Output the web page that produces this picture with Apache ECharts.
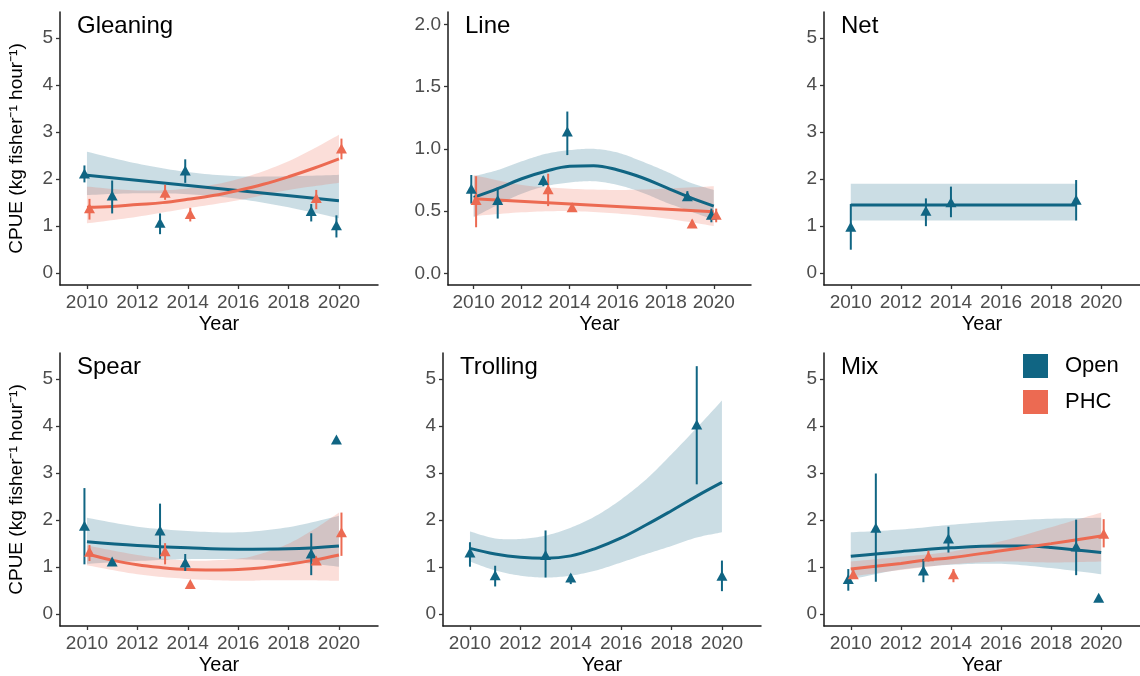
<!DOCTYPE html>
<html>
<head>
<meta charset="utf-8">
<script src="https://cdn.jsdelivr.net/npm/echarts@6/dist/echarts.min.js"></script>
<style>
  html, body { margin: 0; padding: 0; background: #ffffff; }
  #chart { width: 1140px; height: 676px; }
</style>
</head>
<body>
<div id="chart"></div>
<script>
// Tick labels
const xTicks = [2010, 2012, 2014, 2016, 2018, 2020];
const cpueTicks = [0, 1, 2, 3, 4, 5];
const lineTicks = [0, 0.5, 1.0, 1.5, 2.0];
const panelTitles = ['Gleaning', 'Line', 'Net', 'Spear', 'Trolling', 'Mix'];
const groups = ['Open', 'PHC'];

// Yearly CPUE: [year, mean, lower, upper]
const gleaningOpen = [[2009.9, 2.12, 1.93, 2.29], [2011.0, 1.65, 1.27, 1.97], [2012.9, 1.07, 0.83, 1.27], [2013.9, 2.18, 1.92, 2.42], [2018.9, 1.32, 1.10, 1.47], [2019.9, 1.02, 0.76, 1.23]];
const gleaningPhc  = [[2010.1, 1.38, 1.14, 1.58], [2013.1, 1.71, 1.56, 1.88], [2014.1, 1.26, 1.10, 1.39], [2019.1, 1.60, 1.36, 1.77], [2020.1, 2.65, 2.42, 2.86]];
const lineOpen     = [[2009.9, 0.68, 0.56, 0.79], [2011.0, 0.59, 0.44, 0.69], [2012.9, 0.75, 0.70, 0.78], [2013.9, 1.14, 0.95, 1.30], [2018.9, 0.62, 0.59, 0.66], [2019.9, 0.47, 0.41, 0.52]];
const linePhc      = [[2010.1, 0.59, 0.37, 0.78], [2013.1, 0.675, 0.54, 0.80], [2014.1, 0.53, 0.50, 0.56], [2019.1, 0.40, 0.37, 0.43], [2020.1, 0.47, 0.41, 0.52]];
const netOpen      = [[2010.0, 0.99, 0.50, 1.47], [2013.0, 1.33, 1.00, 1.59], [2014.0, 1.51, 1.19, 1.84], [2019.0, 1.56, 1.12, 1.98]];
const spearOpen    = [[2009.9, 1.88, 1.06, 2.68], [2011.0, 1.12, null, null], [2012.9, 1.78, 1.18, 2.35], [2013.9, 1.10, 0.92, 1.28], [2018.9, 1.29, 0.83, 1.72], [2019.9, 3.71, null, null]];
const spearPhc     = [[2010.1, 1.33, 1.13, 1.47], [2013.1, 1.34, 1.06, 1.51], [2014.1, 0.64, null, null], [2019.1, 1.14, null, null], [2020.1, 1.74, 1.24, 2.16]];
const trollingOpen = [[2010.0, 1.31, 1.01, 1.53], [2011.0, 0.83, 0.59, 1.03], [2013.0, 1.26, 0.78, 1.78], [2014.0, 0.78, 0.64, 0.85], [2019.0, 4.03, 2.76, 5.27], [2020.0, 0.82, 0.49, 1.14]];
const mixOpen      = [[2009.9, 0.75, 0.50, 0.96], [2011.0, 1.84, 0.69, 2.99], [2012.9, 0.93, 0.68, 1.17], [2013.9, 1.61, 1.31, 1.86], [2019.0, 1.44, 0.83, 2.01], [2019.9, 0.35, null, null]];
const mixPhc       = [[2010.1, 0.85, 0.75, 0.94], [2013.1, 1.23, 1.12, 1.35], [2014.1, 0.85, 0.68, 0.96], [2020.1, 1.71, 1.42, 2.02]];

// Fitted trends: [year, fit]
const gleaningOpenFit = [[2010, 2.08], [2020, 1.54]];
const gleaningPhcFit  = [[2010, 1.40], [2011, 1.42], [2012, 1.46], [2013, 1.50], [2014, 1.57], [2015, 1.65], [2016, 1.76], [2017, 1.89], [2018, 2.05], [2019, 2.23], [2020, 2.43]];
const lineOpenFit     = [[2010, 0.61], [2011, 0.68], [2012, 0.76], [2013, 0.82], [2014, 0.86], [2015, 0.865], [2016, 0.83], [2017, 0.77], [2018, 0.69], [2019, 0.61], [2020, 0.54]];
const linePhcFit      = [[2010, 0.60], [2020, 0.495]];
const netOpenFit      = [[2010, 1.45], [2019, 1.45]];
const spearOpenFit    = [[2010, 1.54], [2012, 1.46], [2014, 1.41], [2016, 1.38], [2018, 1.39], [2020, 1.45]];
const spearPhcFit     = [[2010, 1.28], [2011, 1.15], [2012, 1.05], [2013, 0.99], [2014, 0.95], [2015, 0.94], [2016, 0.95], [2017, 0.99], [2018, 1.06], [2019, 1.15], [2020, 1.26]];
const trollingOpenFit = [[2010, 1.40], [2011, 1.28], [2012, 1.21], [2013, 1.19], [2014, 1.24], [2015, 1.40], [2016, 1.62], [2017, 1.90], [2018, 2.20], [2019, 2.51], [2020, 2.80]];
const mixOpenFit      = [[2010, 1.23], [2012, 1.33], [2014, 1.41], [2016, 1.45], [2017, 1.45], [2018, 1.42], [2020, 1.31]];
const mixPhcFit       = [[2010, 0.96], [2012, 1.08], [2013, 1.15], [2014, 1.20], [2016, 1.35], [2018, 1.50], [2020, 1.66]];

// Confidence bands: [year, lower, upper]
const gleaningOpenBand = [[2010, 1.66, 2.58], [2012, 1.70, 2.33], [2014, 1.68, 2.15], [2016, 1.58, 2.06], [2018, 1.40, 2.06], [2020, 1.17, 2.09]];
const gleaningPhcBand  = [[2010, 1.06, 1.84], [2012, 1.20, 1.76], [2014, 1.38, 1.80], [2016, 1.55, 2.00], [2018, 1.77, 2.38], [2020, 1.92, 2.94]];
const lineOpenBand     = [[2010, 0.45, 0.78], [2011, 0.55, 0.83], [2012, 0.64, 0.90], [2013, 0.70, 0.96], [2014, 0.73, 0.99], [2015, 0.74, 1.00], [2016, 0.71, 0.97], [2017, 0.65, 0.90], [2018, 0.57, 0.82], [2019, 0.50, 0.73], [2020, 0.43, 0.67]];
const linePhcBand      = [[2010, 0.46, 0.79], [2012, 0.49, 0.71], [2014, 0.50, 0.68], [2016, 0.48, 0.67], [2018, 0.44, 0.68], [2020, 0.38, 0.70]];
const netOpenBand      = [[2010, 1.12, 1.90], [2019, 1.12, 1.90]];
const spearOpenBand    = [[2010, 1.07, 2.05], [2012, 1.13, 1.86], [2014, 1.17, 1.77], [2016, 1.17, 1.74], [2018, 1.12, 1.85], [2020, 1.01, 2.09]];
const spearPhcBand     = [[2010, 1.04, 1.46], [2012, 0.85, 1.26], [2014, 0.75, 1.14], [2016, 0.71, 1.18], [2017, 0.72, 1.30], [2018, 0.72, 1.50], [2019, 0.72, 1.80], [2020, 0.71, 2.16]];
const trollingOpenBand = [[2010, 1.12, 1.76], [2011, 0.93, 1.61], [2012, 0.82, 1.60], [2013, 0.78, 1.67], [2014, 0.82, 1.84], [2015, 0.93, 2.09], [2016, 1.10, 2.44], [2017, 1.28, 2.87], [2018, 1.45, 3.40], [2019, 1.63, 3.96], [2020, 1.74, 4.54]];
const mixOpenBand      = [[2010, 0.74, 1.74], [2012, 0.95, 1.80], [2014, 1.05, 1.90], [2016, 1.07, 1.98], [2018, 0.98, 2.03], [2020, 0.85, 2.05]];
const mixPhcBand       = [[2010, 0.80, 1.12], [2012, 0.94, 1.22], [2014, 1.06, 1.33], [2016, 1.12, 1.55], [2018, 1.10, 1.85], [2020, 1.12, 2.16]];

const COLORS = { Open: '#106583', PHC: '#EC6A52' };
const FONT = '"Liberation Sans", Arial, Helvetica, sans-serif';

const panels = [
  { open: gleaningOpen, phc: gleaningPhc, openFit: gleaningOpenFit, phcFit: gleaningPhcFit, openBand: gleaningOpenBand, phcBand: gleaningPhcBand, ticks: cpueTicks },
  { open: lineOpen, phc: linePhc, openFit: lineOpenFit, phcFit: linePhcFit, openBand: lineOpenBand, phcBand: linePhcBand, ticks: lineTicks },
  { open: netOpen, openFit: netOpenFit, openBand: netOpenBand, ticks: cpueTicks },
  { open: spearOpen, phc: spearPhc, openFit: spearOpenFit, phcFit: spearPhcFit, openBand: spearOpenBand, phcBand: spearPhcBand, ticks: cpueTicks },
  { open: trollingOpen, openFit: trollingOpenFit, openBand: trollingOpenBand, ticks: cpueTicks },
  { open: mixOpen, phc: mixPhc, openFit: mixOpenFit, phcFit: mixPhcFit, openBand: mixOpenBand, phcBand: mixPhcBand, ticks: cpueTicks }
];

// Panel placement (px) and axis ranges
const layout = [
  { left: 60,  top: 12,  width: 318, height: 273, yMin: -0.25,  yMax: 5.55, yTitle: true,  digits: 0 },
  { left: 448, top: 12,  width: 303, height: 273, yMin: -0.094, yMax: 2.10, yTitle: false, digits: 1 },
  { left: 824, top: 12,  width: 318, height: 273, yMin: -0.25,  yMax: 5.55, yTitle: false, digits: 0 },
  { left: 60,  top: 353, width: 318, height: 274, yMin: -0.25,  yMax: 5.55, yTitle: true,  digits: 0 },
  { left: 443, top: 353, width: 318, height: 274, yMin: -0.25,  yMax: 5.55, yTitle: false, digits: 0 },
  { left: 824, top: 353, width: 318, height: 274, yMin: -0.25,  yMax: 5.55, yTitle: false, digits: 0 }
];
const X_MIN = 2008.93, X_MAX = 2021.55;

const grid = [], xAxis = [], yAxis = [], title = [], series = [];

// Catmull-Rom pass through pixel points so band edges curve like the fit lines
function curve(pts, steps) {
  if (pts.length < 3) return pts;
  const out = [];
  for (let i = 0; i < pts.length - 1; i++) {
    const p0 = pts[Math.max(0, i - 1)], p1 = pts[i], p2 = pts[i + 1], p3 = pts[Math.min(pts.length - 1, i + 2)];
    for (let s = 0; s < steps; s++) {
      const t = s / steps, t2 = t * t, t3 = t2 * t;
      const f = k => 0.5 * ((2 * p1[k]) + (-p0[k] + p2[k]) * t + (2 * p0[k] - 5 * p1[k] + 4 * p2[k] - p3[k]) * t2 + (-p0[k] + 3 * p1[k] - 3 * p2[k] + p3[k]) * t3);
      out.push([f(0), f(1)]);
    }
  }
  out.push(pts[pts.length - 1]);
  return out;
}

function bandSeries(rows, color, idx, key) {
  return { type: 'custom', name: key + ' band', xAxisIndex: idx, yAxisIndex: idx, silent: true, z: 1,
    data: rows,
    renderItem: function (params, api) {
      if (params.dataIndex !== 0) return null;
      const upper = curve(rows.map(r => api.coord([r[0], r[2]])), 12);
      const lower = curve(rows.map(r => api.coord([r[0], r[1]])), 12).reverse();
      return { type: 'polygon', shape: { points: upper.concat(lower) },
        style: { fill: color, opacity: 0.22 } };
    } };
}

function fitSeries(rows, color, idx, key) {
  return { type: 'line', name: key + ' fit', xAxisIndex: idx, yAxisIndex: idx,
    data: rows, smooth: 0.4, symbol: 'none', silent: true, z: 3,
    lineStyle: { color: color, width: 3 } };
}

function errorSeries(rows, color, idx, key) {
  return { type: 'custom', name: key + ' error', xAxisIndex: idx, yAxisIndex: idx, silent: true, z: 4,
    data: rows.map(r => [r[0], r[1], r[2] == null ? NaN : r[2], r[3] == null ? NaN : r[3]]),
    renderItem: function (params, api) {
      const x = api.value(0), lo = api.value(2), hi = api.value(3);
      if (isNaN(lo) || isNaN(hi)) return null;
      const a = api.coord([x, lo]), b = api.coord([x, hi]);
      return { type: 'line', shape: { x1: a[0], y1: a[1], x2: b[0], y2: b[1] },
        style: { stroke: color, lineWidth: 2 } };
    } };
}

function pointSeries(rows, color, idx, key) {
  return { type: 'scatter', name: key, xAxisIndex: idx, yAxisIndex: idx, z: 5,
    data: rows.map(r => [r[0], r[1]]), symbol: 'triangle', symbolSize: [11, 10],
    itemStyle: { color: color, opacity: 1 } };
}

panels.forEach((p, i) => {
  const L = layout[i];
  grid.push({ left: L.left, top: L.top, width: L.width, height: L.height, containLabel: false });
  xAxis.push({
    type: 'value', gridIndex: i, min: X_MIN, max: X_MAX,
    name: 'Year', nameLocation: 'middle', nameGap: 29,
    nameTextStyle: { fontSize: 20, color: '#000', fontFamily: FONT },
    axisLine: { show: true, onZero: false, lineStyle: { color: '#1a1a1a', width: 1.5 } },
    axisTick: { show: true, length: 4, customValues: xTicks, lineStyle: { color: '#333', width: 1.3 } },
    axisLabel: { customValues: xTicks, fontSize: 19, color: '#4d4d4d', margin: 8, fontFamily: FONT,
      formatter: v => String(Math.round(v)) },
    splitLine: { show: false }
  });
  yAxis.push({
    type: 'value', gridIndex: i, min: L.yMin, max: L.yMax,
    name: L.yTitle ? 'CPUE (kg fisher\u207B\u00B9 hour\u207B\u00B9)' : '',
    nameLocation: 'middle', nameGap: 34, nameRotate: 90,
    nameTextStyle: { fontSize: 19, color: '#000', fontFamily: FONT },
    axisLine: { show: true, onZero: false, lineStyle: { color: '#1a1a1a', width: 1.5 } },
    axisTick: { show: true, length: 4, customValues: p.ticks, lineStyle: { color: '#333', width: 1.3 } },
    axisLabel: { customValues: p.ticks, fontSize: 19, color: '#4d4d4d', margin: 7, fontFamily: FONT,
      formatter: v => Number(v).toFixed(L.digits) },
    splitLine: { show: false }
  });
  title.push({
    text: panelTitles[i], left: L.left + 17, top: L.top + 2, padding: 0,
    textStyle: { fontSize: 24, fontWeight: 'normal', color: '#000', fontFamily: FONT }
  });

  if (p.openBand) series.push(bandSeries(p.openBand, COLORS.Open, i, 'Open'));
  if (p.phcBand) series.push(bandSeries(p.phcBand, COLORS.PHC, i, 'PHC'));
  if (p.openFit) series.push(fitSeries(p.openFit, COLORS.Open, i, 'Open'));
  if (p.phcFit) series.push(fitSeries(p.phcFit, COLORS.PHC, i, 'PHC'));
  if (p.open) series.push(errorSeries(p.open, COLORS.Open, i, 'Open'));
  if (p.phc) series.push(errorSeries(p.phc, COLORS.PHC, i, 'PHC'));
  if (p.open) series.push(pointSeries(p.open, COLORS.Open, i, 'Open'));
  if (p.phc) series.push(pointSeries(p.phc, COLORS.PHC, i, 'PHC'));
});

const chart = echarts.init(document.getElementById('chart'), null, { renderer: 'canvas' });
chart.setOption({
  backgroundColor: '#ffffff',
  animation: false,
  textStyle: { fontFamily: FONT },
  title: title,
  legend: {
    data: groups.map(g => ({ name: g, icon: 'rect', itemStyle: { color: COLORS[g] } })),
    orient: 'vertical', left: 1023, top: 354, padding: 0,
    itemWidth: 25, itemHeight: 24, itemGap: 12, selectedMode: false,
    textStyle: { fontSize: 22, color: '#000', fontFamily: FONT, padding: [0, 0, 0, 12] }
  },
  grid: grid,
  xAxis: xAxis,
  yAxis: yAxis,
  series: series
});
</script>
</body>
</html>
